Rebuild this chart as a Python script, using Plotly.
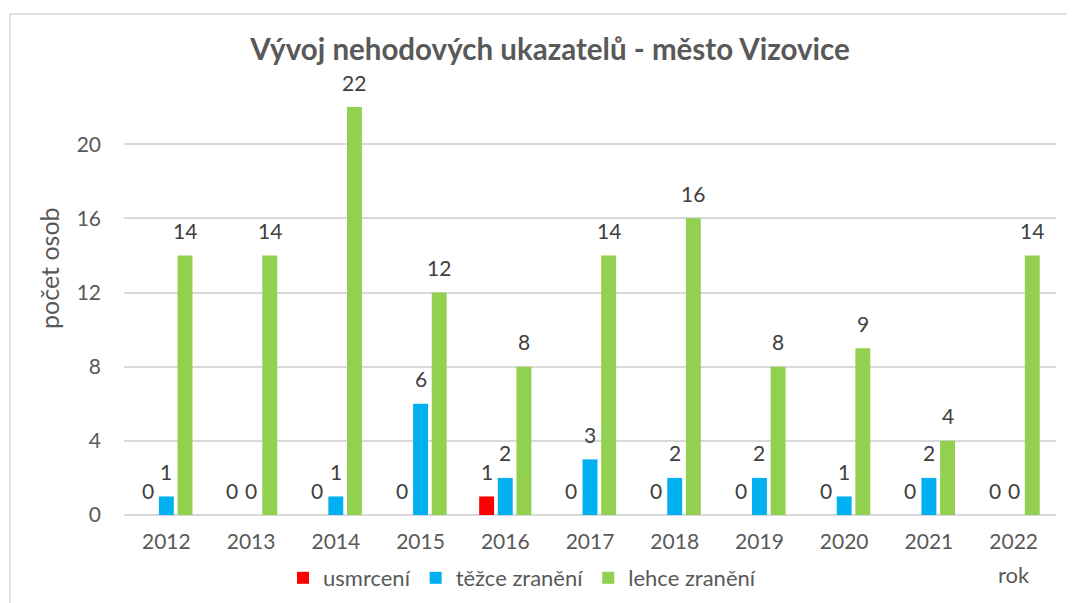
import plotly.graph_objects as go

years = ["2012", "2013", "2014", "2015", "2016", "2017", "2018", "2019", "2020", "2021", "2022"]
usmrceni = [0, 0, 0, 0, 1, 0, 0, 0, 0, 0, 0]
tezce = [1, 0, 1, 6, 2, 3, 2, 2, 1, 2, 0]
lehce = [14, 14, 22, 12, 8, 14, 16, 8, 9, 4, 14]

series = [
    ("usmrcení", usmrceni, "#FF0000"),
    ("těžce zranění", tezce, "#00B0F0"),
    ("lehce zranění", lehce, "#92D050"),
]

FONT = "Lato"
TXT = "#595959"

OFF = 8  # page body margin
W, H = 1075 - OFF, 603 - OFF
L, R, T, B = 124 - OFF, 19, 70 - OFF, 88
pw, ph = W - L - R, H - T - B
BARGAP, GROUPGAP = 0.34, 0.2
cat_px = pw / len(years)
slot_px = cat_px * (1 - BARGAP) / len(series)


def px_x(vx):
    return (vx - OFF - L) / pw


def px_y(vy):
    return 1 - (vy - OFF - T) / ph


fig = go.Figure()
for i, (name, vals, col) in enumerate(series):
    fig.add_trace(go.Bar(
        x=years, y=vals, name=name, marker_color=col,
        marker_line_width=0,
    ))
    off = (i - (len(series) - 1) / 2) * slot_px
    for j, v in enumerate(vals):
        fig.add_annotation(x=j, y=v, xref="x", yref="y", text=str(v),
                           showarrow=False, xshift=off, yshift=25,
                           xanchor="center", yanchor="middle",
                           font=dict(family=FONT, size=21, color="#404040"))

fig.update_layout(
    width=W, height=H,
    margin=dict(l=L, r=R, t=T, b=B, autoexpand=False),
    paper_bgcolor="white", plot_bgcolor="white",
    barmode="group", bargap=BARGAP, bargroupgap=GROUPGAP,
    title=dict(text="<b>Vývoj nehodových ukazatelů - město Vizovice</b>",
               x=(550 - OFF) / W, xanchor="center", y=1 - (50 - OFF) / H, yanchor="middle",
               font=dict(family=FONT, size=29.5, color=TXT)),
    font=dict(family=FONT, color=TXT),
    legend=dict(orientation="h", x=px_x(522), xanchor="center", y=px_y(578),
                yanchor="middle", font=dict(family=FONT, size=22, color=TXT),
                traceorder="normal", itemwidth=30, tracegroupgap=0),
)
fig.update_yaxes(range=[0, 24], tickvals=[0, 4, 8, 12, 16, 20], showgrid=True,
                 gridcolor="#D9D9D9", gridwidth=1.5, zeroline=True,
                 zerolinecolor="#D9D9D9", zerolinewidth=1.5,
                 tickfont=dict(family=FONT, size=21, color=TXT), ticks="",
                 ticklabelstandoff=22)
fig.update_xaxes(type="category", range=[-0.5, len(years) - 0.5], showline=False,
                 tickfont=dict(family=FONT, size=21, color=TXT),
                 ticks="", ticklabelstandoff=12)

# axis titles
fig.add_annotation(text="počet osob", xref="paper", yref="paper", x=px_x(49), y=px_y(268),
                   showarrow=False, textangle=-90, xanchor="center", yanchor="middle",
                   font=dict(family=FONT, size=25, color=TXT))
fig.add_annotation(text="rok", xref="paper", yref="paper", x=px_x(1014), y=px_y(574),
                   showarrow=False, yanchor="middle", xanchor="center",
                   font=dict(family=FONT, size=22, color=TXT))

# chart border
fig.add_shape(type="rect", xref="paper", yref="paper",
              x0=px_x(10), x1=px_x(1100),
              y0=px_y(640), y1=px_y(14),
              line=dict(color="#D9D9D9", width=1.5), layer="below")

fig.write_html("out.html")
